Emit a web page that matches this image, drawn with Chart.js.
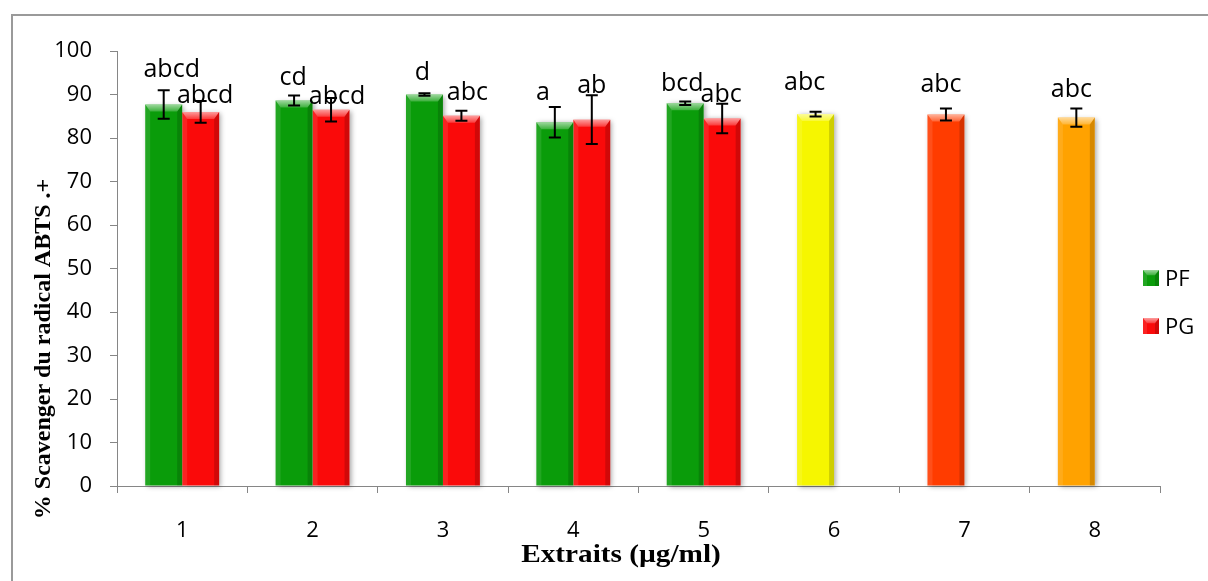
<!DOCTYPE html>
<html>
<head>
<meta charset="utf-8">
<script src="https://cdn.jsdelivr.net/npm/chart.js@4/dist/chart.umd.min.js"></script>
<style>
  html, body { margin: 0; padding: 0; background: #ffffff; }
  #wrap { width: 1208px; height: 581px; position: relative; }
</style>
</head>
<body>
<div id="wrap"><canvas id="chart" width="1208" height="581"></canvas></div>
<script>
// Extract concentrations (category labels)
const categories = ['1', '2', '3', '4', '5', '6', '7', '8'];

// ABTS radical scavenging (%) — mean values and standard deviations
const pfValues = [87.7, 88.6, 90.0, 83.6, 88.0, 85.5, 85.4, 84.7];
const pfErrors = [3.25, 1.15, 0.3, 3.5, 0.4, 0.55, 1.4, 2.1];
const pgValues = [86.0, 86.5, 85.1, 84.2, 84.5, null, null, null];
const pgErrors = [2.5, 2.7, 1.15, 5.6, 3.4, null, null, null];

// Statistical group letters
const pfLetters = ['abcd', 'cd', 'd', 'a', 'bcd', 'abc', 'abc', 'abc'];
const pgLetters = ['abcd', 'abcd', 'abc', 'ab', 'abc', '', '', ''];

// Y axis tick range
const yTicks = { min: 0, max: 100, step: 10 };

// Colours
const GREEN = '#0a9c0a';
const RED = '#fa0a0a';
const pfColors = [GREEN, GREEN, GREEN, GREEN, GREEN, '#f6f600', '#ff3c00', '#ffa200'];

// Hand placement of the letters: [dx, gap above error-bar top] in px
const pfNudge = [[8, 13], [-1, 11], [-2, 13.5], [-12, 7], [-3, 10.5], [-11, 21.5], [-5, 16], [-5, 11]];
const pgNudge = [[4.5, -2], [6, -6.5], [6, 11], [0, 2], [-1, 1.5]];

function bevelBar(ctx, x0, y0, x1, y1) {
  const w = x1 - x0, h = y1 - y0;
  if (h <= 0) return;
  const bx = Math.min(5, w / 4), by = Math.min(7, h / 3);
  ctx.save();
  // left face
  ctx.fillStyle = 'rgba(255,255,255,0.10)';
  ctx.beginPath();
  ctx.moveTo(x0, y0); ctx.lineTo(x0 + bx, y0 + by); ctx.lineTo(x0 + bx, y1); ctx.lineTo(x0, y1);
  ctx.closePath(); ctx.fill();
  // right face
  ctx.fillStyle = 'rgba(0,0,0,0.16)';
  ctx.beginPath();
  ctx.moveTo(x1, y0); ctx.lineTo(x1 - bx, y0 + by); ctx.lineTo(x1 - bx, y1); ctx.lineTo(x1, y1);
  ctx.closePath(); ctx.fill();
  // top face
  const g = ctx.createLinearGradient(0, y0, 0, y0 + by);
  g.addColorStop(0, 'rgba(255,255,255,0.6)');
  g.addColorStop(1, 'rgba(255,255,255,0.2)');
  ctx.fillStyle = g;
  ctx.beginPath();
  ctx.moveTo(x0, y0); ctx.lineTo(x1, y0); ctx.lineTo(x1 - bx, y0 + by); ctx.lineTo(x0 + bx, y0 + by);
  ctx.closePath(); ctx.fill();
  ctx.restore();
}

const frame = {
  id: 'frame',
  beforeDraw(chart) {
    const ctx = chart.ctx;
    ctx.save();
    ctx.fillStyle = '#ffffff';
    ctx.fillRect(0, 0, chart.width, chart.height);
    ctx.strokeStyle = '#9a9a9a';
    ctx.lineWidth = 2;
    ctx.strokeRect(12, 15, chart.width + 20, chart.height + 20);
    ctx.restore();
  }
};

const barShadows = {
  id: 'barShadows',
  beforeDatasetsDraw(chart) {
    const ctx = chart.ctx;
    ctx.save();
    chart.data.datasets.forEach((ds, di) => {
      chart.getDatasetMeta(di).data.forEach((bar, i) => {
        if (ds.data[i] == null) return;
        const { x, y, base, width } = bar.getProps(['x', 'y', 'base', 'width'], true);
        ctx.shadowColor = 'rgba(0,0,0,0.35)';
        ctx.shadowBlur = 5;
        ctx.shadowOffsetX = 2;
        ctx.shadowOffsetY = 1;
        ctx.fillStyle = '#ffffff';
        ctx.fillRect(x - width / 2, y, width, base - y);
      });
    });
    ctx.restore();
  }
};

const decorations = {
  id: 'decorations',
  afterDatasetsDraw(chart) {
    const ctx = chart.ctx;
    const yScale = chart.scales.y;
    const sets = [
      { values: pfValues, errors: pfErrors, letters: pfLetters, nudge: pfNudge },
      { values: pgValues, errors: pgErrors, letters: pgLetters, nudge: pgNudge }
    ];
    // bevels
    chart.data.datasets.forEach((ds, di) => {
      chart.getDatasetMeta(di).data.forEach((bar, i) => {
        if (ds.data[i] == null) return;
        const { x, y, base, width } = bar.getProps(['x', 'y', 'base', 'width'], true);
        bevelBar(ctx, x - width / 2, y, x + width / 2, base);
      });
    });
    // error bars
    ctx.save();
    ctx.strokeStyle = '#000000';
    ctx.lineWidth = 2;
    sets.forEach((s, di) => {
      chart.getDatasetMeta(di).data.forEach((bar, i) => {
        const v = s.values[i], e = s.errors[i];
        if (v == null || e == null) return;
        const x = bar.x;
        const yHi = yScale.getPixelForValue(v + e);
        const yLo = yScale.getPixelForValue(v - e);
        ctx.beginPath();
        ctx.moveTo(x, yHi); ctx.lineTo(x, yLo);
        ctx.moveTo(x - 6, yHi); ctx.lineTo(x + 6, yHi);
        ctx.moveTo(x - 6, yLo); ctx.lineTo(x + 6, yLo);
        ctx.stroke();
      });
    });
    ctx.restore();
    // letters
    ctx.save();
    ctx.fillStyle = '#000000';
    ctx.font = '25px "Open Sans"';
    ctx.textAlign = 'center';
    ctx.textBaseline = 'alphabetic';
    sets.forEach((s, di) => {
      chart.getDatasetMeta(di).data.forEach((bar, i) => {
        const v = s.values[i], e = s.errors[i] || 0;
        if (v == null || !s.letters[i]) return;
        const n = s.nudge[i] || [0, 8];
        const top = yScale.getPixelForValue(v + e);
        ctx.fillText(s.letters[i], bar.x + n[0], top - n[1]);
      });
    });
    ctx.restore();
  },
  afterDraw(chart) {
    const ctx = chart.ctx;
    ctx.save();
    // axis titles
    ctx.fillStyle = '#000000';
    ctx.font = 'bold 24px "Liberation Serif"';
    ctx.textAlign = 'center';
    ctx.textBaseline = 'alphabetic';
    ctx.save();
    ctx.translate(50, 349);
    ctx.rotate(-Math.PI / 2);
    ctx.fillText('% Scavenger du radical ABTS .+', 0, 0);
    ctx.restore();
    ctx.save();
    ctx.translate(621, 562);
    ctx.scale(1.17, 1);
    ctx.font = 'bold 25px "Liberation Serif"';
    ctx.fillText('Extraits (µg/ml)', 0, 0);
    ctx.restore();
    // legend
    const items = [['PF', GREEN, 270], ['PG', RED, 318]];
    ctx.font = '22px "Open Sans"';
    ctx.textAlign = 'left';
    items.forEach(([txt, col, yy]) => {
      ctx.fillStyle = col;
      ctx.fillRect(1143, yy, 16, 16);
      bevelBar(ctx, 1143, yy, 1159, yy + 16);
      ctx.fillStyle = '#000000';
      ctx.fillText(txt, 1165, yy + 16);
    });
    ctx.restore();
  }
};

new Chart(document.getElementById('chart').getContext('2d'), {
  type: 'bar',
  data: {
    labels: categories,
    datasets: [
      { label: 'PF', data: pfValues, backgroundColor: pfColors, borderWidth: 0,
        barPercentage: 1.0, categoryPercentage: 0.567 },
      { label: 'PG', data: pgValues, backgroundColor: RED, borderWidth: 0,
        barPercentage: 1.0, categoryPercentage: 0.567 }
    ]
  },
  options: {
    responsive: false,
    animation: false,
    devicePixelRatio: 1,
    layout: { padding: { left: 0, top: 51, right: 48, bottom: 0 } },
    plugins: { legend: { display: false }, tooltip: { enabled: false } },
    scales: {
      x: {
        grid: { offset: true, drawOnChartArea: false, drawTicks: true, tickLength: 7, color: '#868686' },
        border: { display: true, color: '#868686', width: 1 },
        ticks: { color: '#000000', font: { family: 'Open Sans', size: 22 }, padding: 25 },
        afterFit(s) { s.height = 95; }
      },
      y: {
        min: yTicks.min, max: yTicks.max,
        grid: { drawOnChartArea: false, drawTicks: true, tickLength: 7, color: '#868686' },
        border: { display: true, color: '#868686', width: 1 },
        ticks: { stepSize: yTicks.step, color: '#000000', font: { family: 'Open Sans', size: 22 }, padding: 18 },
        afterFit(s) { s.width = 117; }
      }
    }
  },
  plugins: [frame, barShadows, decorations]
});
</script>
</body>
</html>
